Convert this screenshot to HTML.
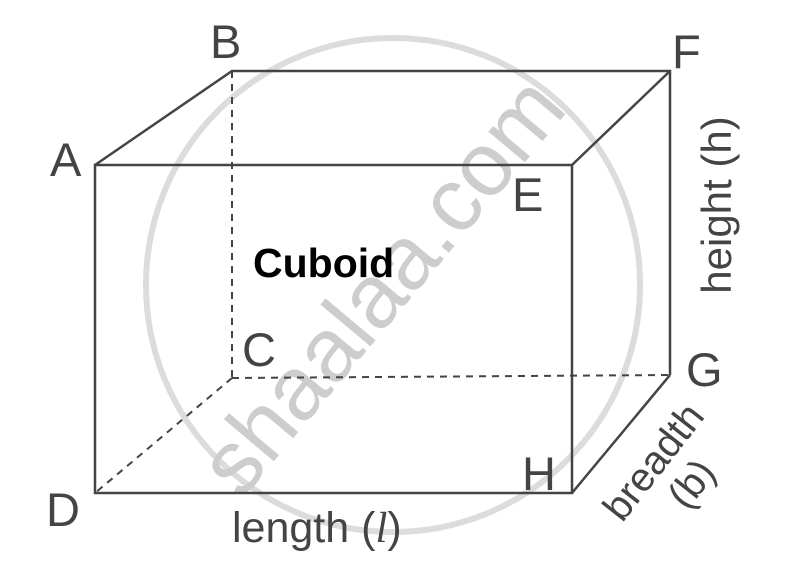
<!DOCTYPE html>
<html><head><style>
html,body{margin:0;padding:0;background:#fff;}
svg{display:block;}
text{font-family:"Liberation Sans",Arial,sans-serif;}
</style></head><body>
<svg width="786" height="571" viewBox="0 0 786 571" xmlns="http://www.w3.org/2000/svg">
<circle cx="393" cy="285" r="247" fill="none" stroke="#dcdcdc" stroke-width="6"/>
<text x="0" y="0" font-size="90" fill="#cdcdcd" text-anchor="middle" transform="translate(405,305) rotate(-50)">shaalaa.com</text>
<g stroke="#444" stroke-width="2.5" fill="none">
<rect x="95" y="165" width="477" height="328"/>
<polyline points="95,165 232,71 670,71 670,375"/>
<line x1="572" y1="165" x2="670" y2="71"/>
<line x1="572" y1="493" x2="670" y2="375"/>
<g stroke-dasharray="7,6" stroke-width="2">
<line x1="232" y1="71" x2="232" y2="378"/>
<line x1="232" y1="378" x2="670" y2="375"/>
<line x1="232" y1="378" x2="95" y2="493"/>
</g>
</g>
<g fill="#444" font-size="47">
<text x="50" y="176">A</text>
<text x="210" y="58">B</text>
<text x="672" y="68">F</text>
<text x="512" y="211">E</text>
<text x="242" y="366">C</text>
<text x="686" y="386">G</text>
<text x="522" y="490">H</text>
<text x="46" y="526">D</text>
</g>
<text x="253" y="277" font-size="41" font-weight="bold" fill="#000">Cuboid</text>
<text x="232" y="542" font-size="43" fill="#444">length (<tspan font-family="Liberation Serif" font-style="italic">l</tspan>)</text>
<text x="0" y="0" font-size="42" fill="#444" text-anchor="middle" transform="translate(731,205) rotate(-90)">height (h)</text>
<text x="0" y="0" font-size="40" fill="#444" text-anchor="middle" transform="translate(664,470) rotate(-52)">breadth</text>
<text x="0" y="0" font-size="40" fill="#444" text-anchor="middle" transform="translate(702,492) rotate(-52)">(b)</text>
</svg>
</body></html>
